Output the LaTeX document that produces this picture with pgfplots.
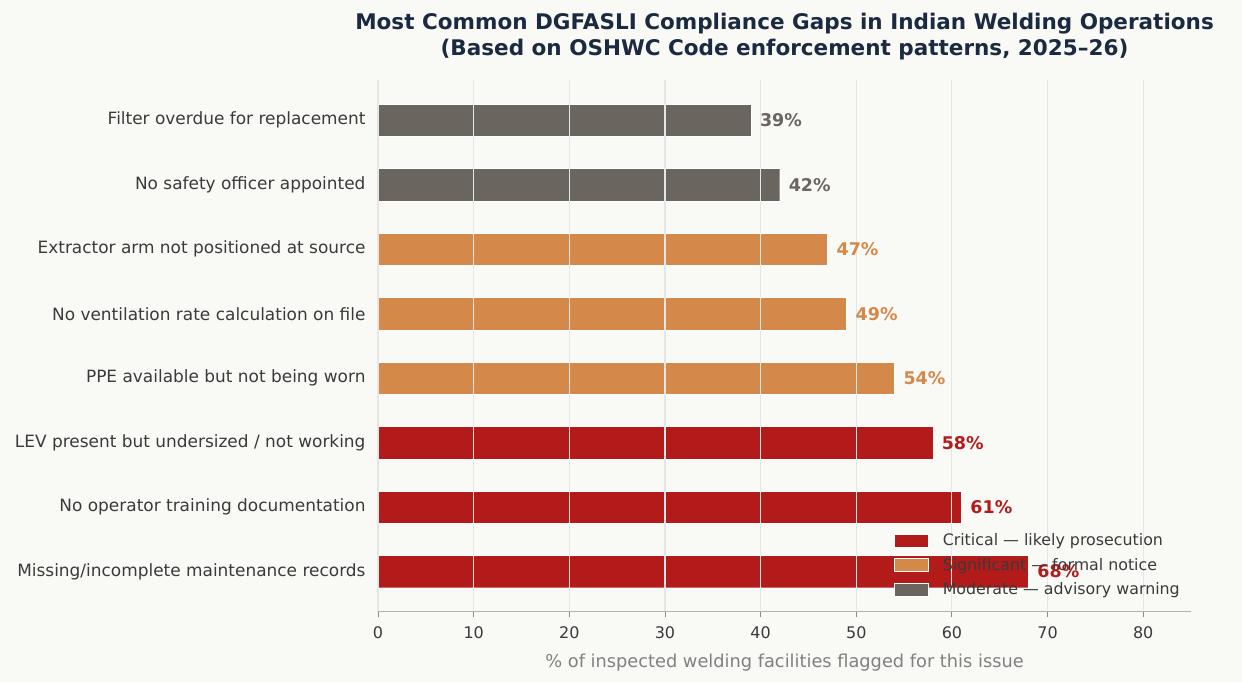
\documentclass[border=0pt]{standalone}
\usepackage{pgfplots}
\pgfplotsset{compat=1.18}
\usepackage{fontspec}
\setmainfont{DejaVu Sans}
\definecolor{bg}{HTML}{F9F9F6}
\definecolor{crit}{HTML}{B31B1B}
\definecolor{sig}{HTML}{D4894A}
\definecolor{mod}{HTML}{6B6560}
\definecolor{titlec}{HTML}{1B2A41}
\definecolor{txt}{HTML}{3A3A3A}
\definecolor{gridc}{HTML}{E6E6E6}
\begin{document}
\begin{tikzpicture}
\fill[bg] (-272.2pt,-50.4pt) rectangle (622.1pt,440.6pt);
\begin{axis}[
  at={(0,0)}, anchor=south west,
  scale only axis,
  width=585.4pt, height=383pt,
  xbar, bar width=0.5, bar shift=0pt,
  xmin=0, xmax=85,
  ymin=-0.625, ymax=7.625,
  xtick={0,10,...,80},
  ytick={0,...,7},
  yticklabels={Missing/incomplete maintenance records,No operator training documentation,LEV present but undersized / not working,PPE available but not being worn,No ventilation rate calculation on file,Extractor arm not positioned at source,No safety officer appointed,Filter overdue for replacement},
  axis x line*=bottom,
  axis y line*=left,
  y axis line style={draw=none},
  x axis line style={draw=black!30, line width=0.6pt},
  ytick style={draw=none},
  xtick style={draw=black!45, line width=0.6pt},
  xtick align=outside,
  major tick length=4pt,
  xticklabel style={font=\fontsize{11.5}{13}\selectfont, color=txt, yshift=-3pt},
  yticklabel style={font=\fontsize{12.2}{14}\selectfont, color=txt, xshift=-1.5pt},
  /pgf/number format/assume math mode=true,
  xmajorgrids,
  major grid style={draw=gridc, line width=0.8pt},
  axis on top,
  xlabel={\% of inspected welding facilities flagged for this issue},
  xlabel style={font=\fontsize{12.8}{14}\selectfont, color=black!50, yshift=-4pt},
  nodes near coords={\pgfmathprintnumber{\pgfplotspointmeta}\%},
  nodes near coords style={font=\fontsize{12.6}{14}\selectfont\bfseries, anchor=west, xshift=3pt},
  legend style={at={(0.995,0.017)}, anchor=south east, draw=none, fill=none,
    font=\fontsize{11.4}{13}\selectfont, text=txt, row sep=3.5pt,
    legend cell align=left, nodes={inner sep=2pt}},
  legend image code/.code={\fill[#1] (0pt,-4.5pt) rectangle (25pt,5pt); \path (33pt,0pt);},
  title style={font=\fontsize{15.5}{18.7}\selectfont\bfseries, color=titlec, align=center, yshift=5pt},
  title={Most Common DGFASLI Compliance Gaps in Indian Welding Operations\\(Based on OSHWC Code enforcement patterns, 2025–26)},
]
\addplot[fill=crit, draw=white, line width=0.3pt, nodes near coords style={text=crit}] coordinates {(68,0) (61,1) (58,2)};
\addlegendentry{Critical — likely prosecution}
\addplot[fill=sig, draw=white, line width=0.3pt, nodes near coords style={text=sig}] coordinates {(54,3) (49,4) (47,5)};
\addlegendentry{Significant — formal notice}
\addplot[fill=mod, draw=white, line width=0.3pt, nodes near coords style={text=mod}] coordinates {(42,6) (39,7)};
\addlegendentry{Moderate — advisory warning}
\end{axis}
\end{tikzpicture}
\end{document}
